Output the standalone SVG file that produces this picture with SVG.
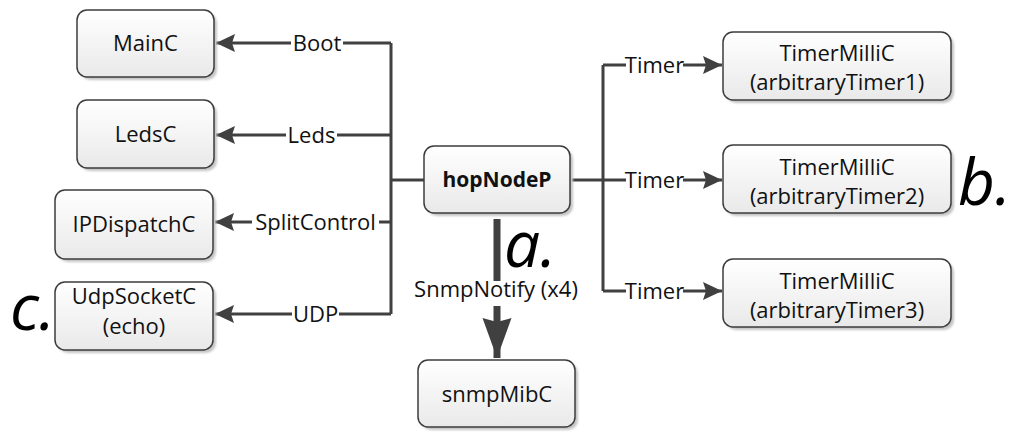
<svg xmlns="http://www.w3.org/2000/svg" width="1011" height="432" viewBox="0 0 1011 432">
  <defs>
    <linearGradient id="boxFill" x1="0" y1="0" x2="0" y2="1">
      <stop offset="0" stop-color="#ffffff"/>
      <stop offset="1" stop-color="#e9e9e9"/>
    </linearGradient>
    <filter id="soft" x="-10%" y="-10%" width="130%" height="130%">
      <feGaussianBlur stdDeviation="1"/>
    </filter>
    <marker id="head" markerUnits="userSpaceOnUse" markerWidth="24" markerHeight="22" refX="20" refY="10" orient="auto">
      <path d="M1,1 L20,10 L1,19 L4,10 Z" fill="#404040"/>
    </marker>
    <marker id="headBig" markerUnits="userSpaceOnUse" markerWidth="44" markerHeight="34" refX="40" refY="16" orient="auto">
      <path d="M0,1.5 L40,16 L0,30.5 L4,16 Z" fill="#404040"/>
    </marker>
  </defs>
  <style>
    .box { fill: url(#boxFill); stroke: #3c3c3c; stroke-width: 1.5; }
    .shadow { fill: #c4c4c4; filter: url(#soft); }
    .lbl { font-family: "Open Sans", "Liberation Sans", sans-serif; font-size: 22px; fill: #111; text-anchor: middle; }
    .bold { font-weight: bold; font-size: 21px; }
    .wire { fill: none; stroke: #404040; stroke-width: 3; }
    .bg { fill: #ffffff; }
    .tag { font-family: "Open Sans", "Liberation Sans", sans-serif; font-size: 64px; font-style: italic; fill: #000; }
  </style>

  <rect width="1011" height="432" fill="#ffffff"/>

  <!-- connectors -->
  <g id="connectors">
    <!-- left bus -->
    <path class="wire" d="M391,43 V314"/>
    <path class="wire" d="M424,180 H391"/>
    <path class="wire" d="M391,43 H216" marker-end="url(#head)"/>
    <path class="wire" d="M391,135 H216" marker-end="url(#head)"/>
    <path class="wire" d="M391,222 H215" marker-end="url(#head)"/>
    <path class="wire" d="M391,314 H215" marker-end="url(#head)"/>
    <!-- right bus -->
    <path class="wire" d="M603,65 V291"/>
    <path class="wire" d="M572,180 H603"/>
    <path class="wire" d="M603,65 H722" marker-end="url(#head)"/>
    <path class="wire" d="M603,180 H722" marker-end="url(#head)"/>
    <path class="wire" d="M603,291 H722" marker-end="url(#head)"/>
    <!-- notify link -->
    <path d="M497,219 V358" fill="none" stroke="#404040" stroke-width="7" marker-end="url(#headBig)"/>

    <!-- link labels -->
    <rect class="bg" x="291" y="32" width="52" height="22"/>
    <text class="lbl" x="317" y="50.7">Boot</text>
    <rect class="bg" x="286" y="124" width="51" height="22"/>
    <text class="lbl" x="311.5" y="142.7">Leds</text>
    <rect class="bg" x="252" y="211" width="127" height="22"/>
    <text class="lbl" x="315.5" y="229.7">SplitControl</text>
    <rect class="bg" x="292" y="303" width="47" height="22"/>
    <text class="lbl" x="315.5" y="321.7">UDP</text>
    <rect class="bg" x="626" y="54" width="57" height="22"/>
    <text class="lbl" x="654.5" y="72.7">Timer</text>
    <rect class="bg" x="626" y="169" width="57" height="22"/>
    <text class="lbl" x="654.5" y="187.7">Timer</text>
    <rect class="bg" x="626" y="280" width="57" height="22"/>
    <text class="lbl" x="654.5" y="298.7">Timer</text>
    <rect class="bg" x="410" y="281" width="172" height="25"/>
    <text class="lbl" x="496" y="297">SnmpNotify (x4)</text>
  </g>

  <!-- components -->
  <g id="MainC">
    <rect class="shadow" x="80" y="13" width="137" height="67" rx="10"/>
    <rect class="box" x="77" y="10" width="137" height="67" rx="10"/>
    <text class="lbl" x="145.5" y="51.3">MainC</text>
  </g>
  <g id="LedsC">
    <rect class="shadow" x="80" y="103" width="137" height="68" rx="10"/>
    <rect class="box" x="77" y="100" width="137" height="68" rx="10"/>
    <text class="lbl" x="145.5" y="141.7">LedsC</text>
  </g>
  <g id="IPDispatchC">
    <rect class="shadow" x="58" y="193" width="158" height="69" rx="10"/>
    <rect class="box" x="55" y="190" width="158" height="69" rx="10"/>
    <text class="lbl" x="134" y="232.2">IPDispatchC</text>
  </g>
  <g id="UdpSocketC">
    <rect class="shadow" x="58" y="285" width="158" height="68" rx="10"/>
    <rect class="box" x="55" y="282" width="158" height="68" rx="10"/>
    <text class="lbl" x="134" y="304">UdpSocketC</text>
    <text class="lbl" x="134" y="334">(echo)</text>
  </g>
  <g id="hopNodeP">
    <rect class="shadow" x="427" y="149" width="146" height="67" rx="10"/>
    <rect class="box" x="424" y="146" width="146" height="67" rx="10"/>
    <text class="lbl bold" x="497" y="187.4">hopNodeP</text>
  </g>
  <g id="snmpMibC">
    <rect class="shadow" x="421" y="363" width="157" height="67" rx="10"/>
    <rect class="box" x="418" y="360" width="157" height="67" rx="10"/>
    <text class="lbl" x="497" y="401.5">snmpMibC</text>
  </g>
  <g id="TimerMilliC1">
    <rect class="shadow" x="726" y="35" width="228" height="68" rx="10"/>
    <rect class="box" x="723" y="32" width="228" height="68" rx="10"/>
    <text class="lbl" x="837" y="60.5">TimerMilliC</text>
    <text class="lbl" x="837" y="89.5">(arbitraryTimer1)</text>
  </g>
  <g id="TimerMilliC2">
    <rect class="shadow" x="726" y="148" width="228" height="68" rx="10"/>
    <rect class="box" x="723" y="145" width="228" height="68" rx="10"/>
    <text class="lbl" x="837" y="174.5">TimerMilliC</text>
    <text class="lbl" x="837" y="203.5">(arbitraryTimer2)</text>
  </g>
  <g id="TimerMilliC3">
    <rect class="shadow" x="726" y="262" width="228" height="68" rx="10"/>
    <rect class="box" x="723" y="259" width="228" height="68" rx="10"/>
    <text class="lbl" x="837" y="288.5">TimerMilliC</text>
    <text class="lbl" x="837" y="317.5">(arbitraryTimer3)</text>
  </g>

  <!-- callout letters -->
  <g id="tags">
    <text class="tag" x="504" y="267">a.</text>
    <text class="tag" x="958" y="205">b.</text>
    <text class="tag" x="10" y="330">c.</text>
  </g>
</svg>
